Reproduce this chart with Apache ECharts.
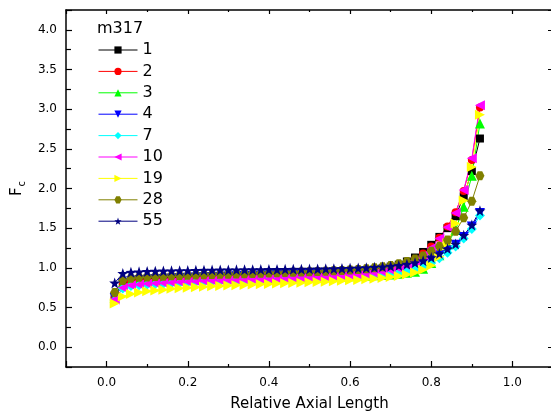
<!DOCTYPE html>
<html><head><meta charset="utf-8">
<script src="https://cdn.jsdelivr.net/npm/echarts@6/dist/echarts.min.js"></script>
<style>html,body{margin:0;padding:0;background:#fff}#c{width:551px;height:416px}</style>
</head><body><div id="c"></div>
<script>
const FONT = 'DejaVu Sans';
const xValues = [0.02,0.04,0.06,0.08,0.10,0.12,0.14,0.16,0.18,0.20,
  0.22,0.24,0.26,0.28,0.30,0.32,0.34,0.36,0.38,0.40,
  0.42,0.44,0.46,0.48,0.50,0.52,0.54,0.56,0.58,0.60,
  0.62,0.64,0.66,0.68,0.70,0.72,0.74,0.76,0.78,0.80,
  0.82,0.84,0.86,0.88,0.90,0.92];
const s1 = [0.65,0.82,0.85,0.86,0.865,0.87,0.873,0.876,0.879,0.882,
  0.885,0.887,0.889,0.891,0.893,0.895,0.897,0.899,0.901,0.903,
  0.905,0.907,0.91,0.913,0.916,0.92,0.925,0.93,0.936,0.943,
  0.955,0.967,0.98,0.995,1.015,1.04,1.08,1.13,1.2,1.29,
  1.39,1.5,1.65,1.9,2.22,2.63];
const s2 = [0.63,0.8,0.83,0.84,0.845,0.85,0.855,0.86,0.863,0.866,
  0.869,0.872,0.875,0.878,0.88,0.883,0.886,0.889,0.892,0.895,
  0.898,0.901,0.904,0.908,0.912,0.916,0.921,0.926,0.932,0.939,
  0.95,0.96,0.97,0.985,1.0,1.025,1.06,1.11,1.18,1.27,
  1.38,1.52,1.70,1.97,2.36,3.02];
const s3 = [0.62,0.8,0.82,0.83,0.835,0.84,0.843,0.846,0.849,0.852,
  0.855,0.857,0.859,0.861,0.863,0.865,0.867,0.869,0.871,0.873,
  0.875,0.877,0.879,0.881,0.883,0.885,0.887,0.889,0.891,0.893,
  0.896,0.9,0.905,0.91,0.917,0.925,0.937,0.952,0.99,1.06,
  1.16,1.30,1.48,1.77,2.16,2.82];
const s4 = [0.62,0.8,0.83,0.84,0.848,0.855,0.86,0.865,0.87,0.874,
  0.878,0.882,0.885,0.888,0.891,0.894,0.897,0.9,0.903,0.906,
  0.909,0.912,0.915,0.918,0.921,0.925,0.929,0.933,0.938,0.943,
  0.949,0.955,0.962,0.97,0.98,0.993,1.01,1.03,1.06,1.1,
  1.16,1.22,1.29,1.39,1.52,1.69];
const s7 = [0.59,0.74,0.77,0.78,0.79,0.795,0.8,0.805,0.81,0.815,
  0.82,0.824,0.828,0.832,0.836,0.84,0.843,0.846,0.849,0.852,
  0.855,0.858,0.861,0.864,0.867,0.87,0.874,0.878,0.882,0.887,
  0.892,0.898,0.905,0.913,0.923,0.936,0.953,0.975,1.01,1.06,
  1.12,1.19,1.27,1.37,1.49,1.66];
const s10 = [0.60,0.75,0.78,0.79,0.8,0.805,0.81,0.815,0.82,0.825,
  0.829,0.833,0.837,0.84,0.843,0.846,0.849,0.852,0.855,0.858,
  0.861,0.864,0.868,0.872,0.876,0.88,0.885,0.89,0.896,0.903,
  0.911,0.92,0.932,0.948,0.968,0.995,1.03,1.09,1.16,1.25,
  1.37,1.51,1.69,1.98,2.38,3.05];
const s19 = [0.55,0.64,0.67,0.69,0.705,0.715,0.725,0.735,0.743,0.75,
  0.756,0.762,0.767,0.772,0.777,0.781,0.785,0.789,0.793,0.797,
  0.801,0.805,0.809,0.813,0.817,0.821,0.826,0.831,0.836,0.842,
  0.848,0.855,0.863,0.872,0.883,0.897,0.915,0.94,0.975,1.03,
  1.14,1.31,1.56,1.85,2.27,2.93];
const s28 = [0.69,0.84,0.87,0.88,0.885,0.89,0.895,0.9,0.903,0.906,
  0.909,0.912,0.915,0.918,0.92,0.923,0.926,0.929,0.932,0.935,
  0.938,0.941,0.944,0.947,0.95,0.954,0.958,0.962,0.967,0.972,
  0.98,0.99,1.0,1.015,1.03,1.05,1.08,1.11,1.15,1.21,
  1.27,1.35,1.46,1.63,1.84,2.16];
const s55 = [0.81,0.93,0.945,0.95,0.955,0.958,0.96,0.962,0.964,0.966,
  0.968,0.97,0.972,0.973,0.974,0.975,0.976,0.977,0.978,0.979,
  0.98,0.981,0.982,0.983,0.984,0.986,0.988,0.99,0.992,0.995,
  0.998,1.002,1.007,1.013,1.02,1.03,1.045,1.065,1.09,1.13,
  1.18,1.24,1.30,1.41,1.54,1.72];
const seriesNames = ['1','2','3','4','7','10','19','28','55'];
const seriesValues = [s1,s2,s3,s4,s7,s10,s19,s28,s55];
const legendTitle = 'm317';
const xLabels = [0.0,0.2,0.4,0.6,0.8,1.0];
const yLabels = [0.0,0.5,1.0,1.5,2.0,2.5,3.0,3.5,4.0];

const colors = ['#000000','#ff0000','#00ff00','#0000ff','#00ffff','#ff00ff','#ffff00','#808000','#000080'];
const STAR = 'path://M0,-10 L2.35,-3.24 L9.51,-3.09 L3.8,1.24 L5.88,8.09 L0,4 L-5.88,8.09 L-3.8,1.24 L-9.51,-3.09 L-2.35,-3.24 Z';
const HEX = 'path://M-5,-8.66 L5,-8.66 L10,0 L5,8.66 L-5,8.66 L-10,0 Z';
const symbols = ['rect','circle','triangle','path://M-1,-1 L1,-1 L0,1 Z','diamond',
  'path://M1,-1 L1,1 L-1,0 Z','path://M-1,-1 L-1,1 L1,0 Z',HEX,STAR];
const sizes = [8,8,10,10,10,10,10,9,11];

const chart = echarts.init(document.getElementById('c'), null, {renderer:'canvas'});
const axisCommon = {
  axisLine:{show:true,onZero:false,lineStyle:{color:'#000',width:1.5}},
  splitLine:{show:false}
};
const fmtX = v => xLabels.some(t => Math.abs(t - v) < 1e-9) ? v.toFixed(1) : '';
const fmtY = v => yLabels.some(t => Math.abs(t - v) < 1e-9) ? v.toFixed(1) : '';
chart.setOption({
  animation:false,
  backgroundColor:'#fff',
  title:{text:legendTitle,left:97,top:21,padding:0,
    textStyle:{fontFamily:FONT,fontSize:16,fontWeight:'normal',color:'#000'}},
  legend:{orient:'vertical',left:98,top:42,padding:0,itemWidth:39,itemHeight:9,itemGap:5.4,
    lineStyle:{width:1},
    textStyle:{fontFamily:FONT,fontSize:16,color:'#000',lineHeight:16},
    data:seriesNames},
  grid:{left:66,top:10,width:487,height:357,containLabel:false,outerBoundsMode:'none'},
  xAxis:[{type:'value',min:-0.1,max:1.1,splitNumber:6,position:'bottom',
    name:'Relative Axial Length',nameLocation:'middle',nameGap:30,
    nameTextStyle:{fontFamily:FONT,fontSize:15,color:'#000'},
    axisTick:{show:true,inside:true,length:6,lineStyle:{color:'#000',width:1.2}},
    minorTick:{show:true,splitNumber:2,length:3,lineStyle:{color:'#000',width:1.2}},
    axisLabel:{show:true,formatter:fmtX,showMinLabel:false,showMaxLabel:false,margin:10,
      fontFamily:FONT,fontSize:12,color:'#000'},
    ...axisCommon},
   {type:'value',min:-0.1,max:1.1,splitNumber:6,position:'top',
    axisTick:{show:true,inside:true,length:4,lineStyle:{color:'#000',width:1.2}},
    minorTick:{show:true,splitNumber:2,length:2,lineStyle:{color:'#000',width:1.2}},
    axisLabel:{show:false},...axisCommon}],
  yAxis:[{type:'value',min:-0.25,max:4.25,splitNumber:9,position:'left',
    name:'{f|F}{s|c}',nameLocation:'middle',nameGap:39,nameRotate:90,
    nameTextStyle:{rich:{f:{fontFamily:FONT,fontSize:15,color:'#000'},
      s:{fontFamily:FONT,fontSize:10,color:'#000',padding:[10,0,0,1]}}},
    axisTick:{show:true,inside:true,length:6,lineStyle:{color:'#000',width:1.2}},
    minorTick:{show:true,splitNumber:2,length:5,lineStyle:{color:'#000',width:1.2}},
    axisLabel:{show:true,formatter:fmtY,showMinLabel:false,showMaxLabel:false,margin:9,
      fontFamily:FONT,fontSize:12,color:'#000'},
    ...axisCommon},
   {type:'value',min:-0.25,max:4.25,splitNumber:9,position:'right',
    axisTick:{show:true,inside:true,length:5},axisLabel:{show:false},...axisCommon}],
  series: seriesNames.map((n,i)=>({
    name:n,type:'line',xAxisIndex:0,yAxisIndex:0,
    data:xValues.map((x,j)=>[x,seriesValues[i][j]]),
    symbol:symbols[i],symbolSize:sizes[i],showAllSymbol:true,
    itemStyle:{color:colors[i]},
    lineStyle:{color:colors[i],width:1},
    emphasis:{disabled:true}
  }))
});
</script></body></html>
